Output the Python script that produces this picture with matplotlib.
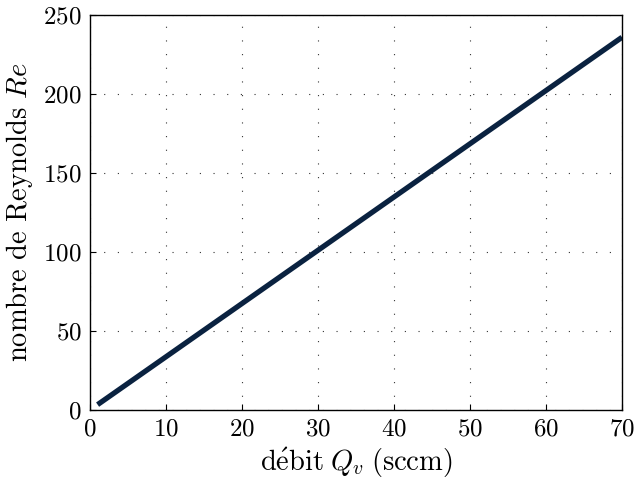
import numpy as np
import matplotlib
matplotlib.use("Agg")
import matplotlib.pyplot as plt

# debit (sccm) vs nombre de Reynolds
debit = [1, 10, 20, 30, 40, 50, 60, 70]
reynolds = [3.4, 33.7, 67.4, 101.1, 134.8, 168.5, 202.2, 235.9]
xticks = [0, 10, 20, 30, 40, 50, 60, 70]
yticks = [0, 50, 100, 150, 200, 250]

plt.rcParams['font.family'] = ['cmr10', 'DejaVu Serif']
plt.rcParams['mathtext.fontset'] = 'cm'
plt.rcParams['axes.formatter.use_mathtext'] = True

fig = plt.figure(figsize=(6.36, 4.92), dpi=100)
ax = fig.add_axes([90/636, 1 - 410/492, 532/636, 395/492])

ax.plot(debit, reynolds, color='#0a2240', linewidth=3.8, solid_capstyle='butt')

ax.set_xlim(0, 70)
ax.set_ylim(0, 250)
ax.set_xticks(xticks)
ax.set_yticks(yticks)
ax.grid(True, linestyle=(0, (1, 11.3)), color='#333333', linewidth=0.8)
ax.tick_params(direction='in', length=4, labelsize=18, pad=6)
for s in ax.spines.values():
    s.set_linewidth(1.0)

ax.set_xlabel(r'$\mathrm{d\acute{e}bit}\;Q_v\;\mathrm{(sccm)}$', fontsize=20.5, labelpad=4)
ax.set_ylabel(r'nombre de Reynolds $Re$', fontsize=20.5, labelpad=6)

fig.savefig('out.png', dpi=100)
